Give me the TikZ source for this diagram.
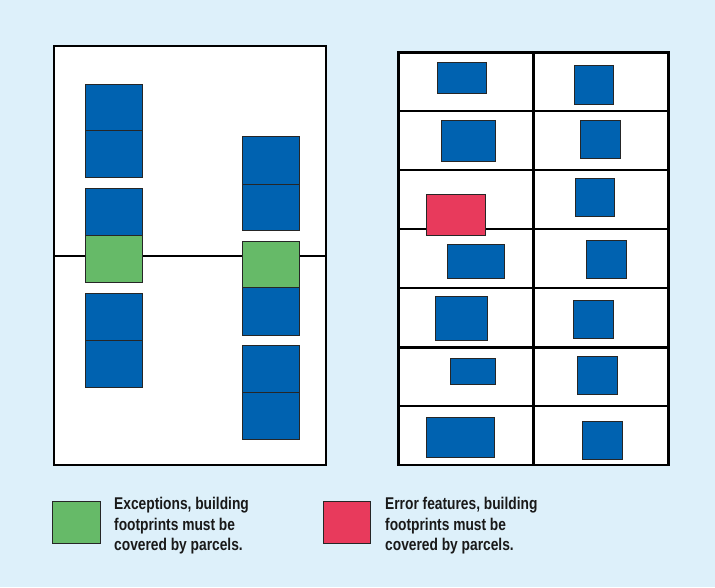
\documentclass[tikz,border=0pt]{standalone}
\usepackage{fontspec}
\setmainfont{Liberation Sans}
\newfontfamily\legendfont[FakeStretch=0.81]{Liberation Sans}
\definecolor{bgblue}{RGB}{221,240,250}
\definecolor{bldblue}{RGB}{0,98,176}
\definecolor{excgreen}{RGB}{102,186,104}
\definecolor{errred}{RGB}{232,58,92}
\begin{document}
\begin{tikzpicture}[x=1pt,y=-1pt,
  panel/.style={draw=black,line width=2.8pt,fill=white},
  parcel/.style={draw=black,line width=2.4pt},
  bld/.style={draw=black!85,line width=0.9pt,fill=bldblue},
  exc/.style={draw=black!85,line width=0.9pt,fill=excgreen},
  err/.style={draw=black!85,line width=0.9pt,fill=errred},
  legtext/.style={anchor=north west,inner sep=0pt,align=left,
    font=\legendfont\bfseries\fontsize{17}{20.5}\selectfont,text=black!90}]
\fill[bgblue] (0,0) rectangle (715,587);
\useasboundingbox (0,0) rectangle (715,587);

% ---- left panel
\draw[panel] (54,46) rectangle (326,465);
\draw[line width=2.3pt] (54,255.7) -- (326,255.7);
% left column
\draw[bld] (85,84) rectangle (142.7,130.7);
\draw[bld] (85,130.7) rectangle (142.7,177.7);
\draw[bld] (85,188.7) rectangle (142.7,235.7);
\draw[exc] (85,235.7) rectangle (142.7,282.7);
\draw[bld] (85,293.3) rectangle (142.7,340.7);
\draw[bld] (85,340.7) rectangle (142.7,387);
% right column
\draw[bld] (242,136.7) rectangle (299.7,184);
\draw[bld] (242,184) rectangle (299.7,230.7);
\draw[exc] (242,241) rectangle (299.7,287.7);
\draw[bld] (242,287.7) rectangle (299.7,335.3);
\draw[bld] (242,345.3) rectangle (299.7,392.3);
\draw[bld] (242,392.3) rectangle (299.7,439.3);

% ---- right panel
\draw[panel] (398.3,52.7) rectangle (668.5,465);
\draw[parcel] (533.3,52.7) -- (533.3,465);
\foreach \yy in {111,170,228.7,287.7,347.3,406}
  \draw[parcel] (398.3,\yy) -- (668.5,\yy);
\draw[bld] (437,62.7) rectangle (486.7,93.3);
\draw[bld] (574,65.7) rectangle (613.3,104);
\draw[bld] (441,120.7) rectangle (495,161.7);
\draw[bld] (580.7,120) rectangle (620,158.3);
\draw[bld] (575,178.3) rectangle (614,216);
\draw[bld] (447.7,244.3) rectangle (504,278.7);
\draw[bld] (586.7,240) rectangle (626,278.3);
\draw[bld] (435.7,296.7) rectangle (487.7,340.7);
\draw[bld] (573.7,300) rectangle (613.3,338);
\draw[bld] (450,358.3) rectangle (495,384.3);
\draw[bld] (577.7,356.7) rectangle (617,394.3);
\draw[bld] (426,417) rectangle (494,457);
\draw[bld] (582.7,421) rectangle (622,459.3);
\draw[err] (426.3,194) rectangle (485.7,235.7);

% ---- legend
\draw[exc] (52.7,501.7) rectangle (100.3,543.3);
\node[legtext] (exctext) at (114,497) {Exceptions, building\\footprints must be\\covered by parcels.};
\draw[err] (323.3,501.7) rectangle (370.7,543.3);
\node[legtext] (errtext) at (385,497) {Error features, building\\footprints must be\\covered by parcels.};
\end{tikzpicture}
\end{document}
